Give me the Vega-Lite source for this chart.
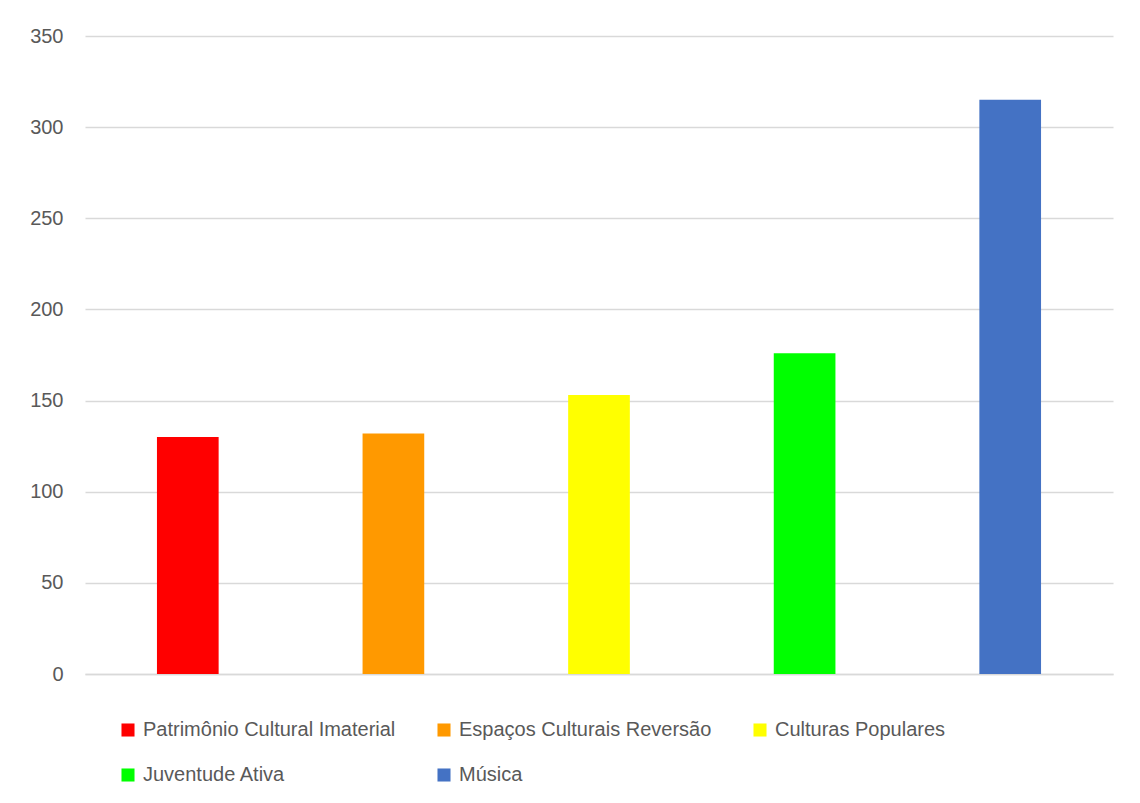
{
  "$schema": "https://vega.github.io/schema/vega-lite/v6.json",
  "width": 1028,
  "height": 638,
  "autosize": {"type": "none"},
  "padding": {"left": 85, "top": 36, "right": 27, "bottom": 129},
  "background": "white",
  "title": {
    "text": "Gráfico 1 – Grupos contemplados por área temática",
    "font": "Liberation Serif",
    "fontSize": 18,
    "fontWeight": "normal",
    "color": "#000000",
    "anchor": "middle",
    "dx": -134,
    "baseline": "alphabetic",
    "offset": 34
  },
  "data": {
    "values": [
      {"categoria": "Patrimônio Cultural Imaterial", "valor": 130},
      {"categoria": "Espaços Culturais Reversão", "valor": 132},
      {"categoria": "Culturas Populares", "valor": 153},
      {"categoria": "Juventude Ativa", "valor": 176},
      {"categoria": "Música", "valor": 315}
    ]
  },
  "mark": {"type": "bar"},
  "encoding": {
    "x": {
      "field": "categoria",
      "type": "nominal",
      "sort": null,
      "scale": {"paddingInner": 0.7, "paddingOuter": 0.35},
      "axis": {"labels": false, "ticks": false, "title": null, "domain": true, "domainColor": "#d9d9d9", "domainWidth": 1.5}
    },
    "y": {
      "field": "valor",
      "type": "quantitative",
      "scale": {"domain": [0, 350]},
      "axis": {
        "values": [0, 50, 100, 150, 200, 250, 300, 350],
        "title": null,
        "domain": false,
        "ticks": false,
        "labelPadding": 22,
        "labelFont": "Liberation Sans",
        "labelFontSize": 20,
        "labelColor": "#595959",
        "gridColor": "#d9d9d9",
        "gridWidth": 1.5
      }
    },
    "color": {
      "field": "categoria",
      "type": "nominal",
      "sort": null,
      "scale": {
        "domain": ["Patrimônio Cultural Imaterial", "Espaços Culturais Reversão", "Culturas Populares", "Juventude Ativa", "Música"],
        "range": ["#ff0000", "#ff9900", "#ffff00", "#00ff00", "#4472c4"]
      },
      "legend": {
        "title": null,
        "orient": "none",
        "direction": "horizontal",
        "legendX": 33,
        "legendY": 684,
        "columns": 3,
        "symbolType": "square",
        "symbolSize": 170,
        "symbolStrokeWidth": 0,
        "labelFont": "Liberation Sans",
        "labelFontSize": 20,
        "labelColor": "#595959",
        "labelOffset": 5,
        "columnPadding": 38,
        "rowPadding": 25,
        "labelLimit": 400
      }
    }
  },
  "config": {"view": {"stroke": null}}
}
